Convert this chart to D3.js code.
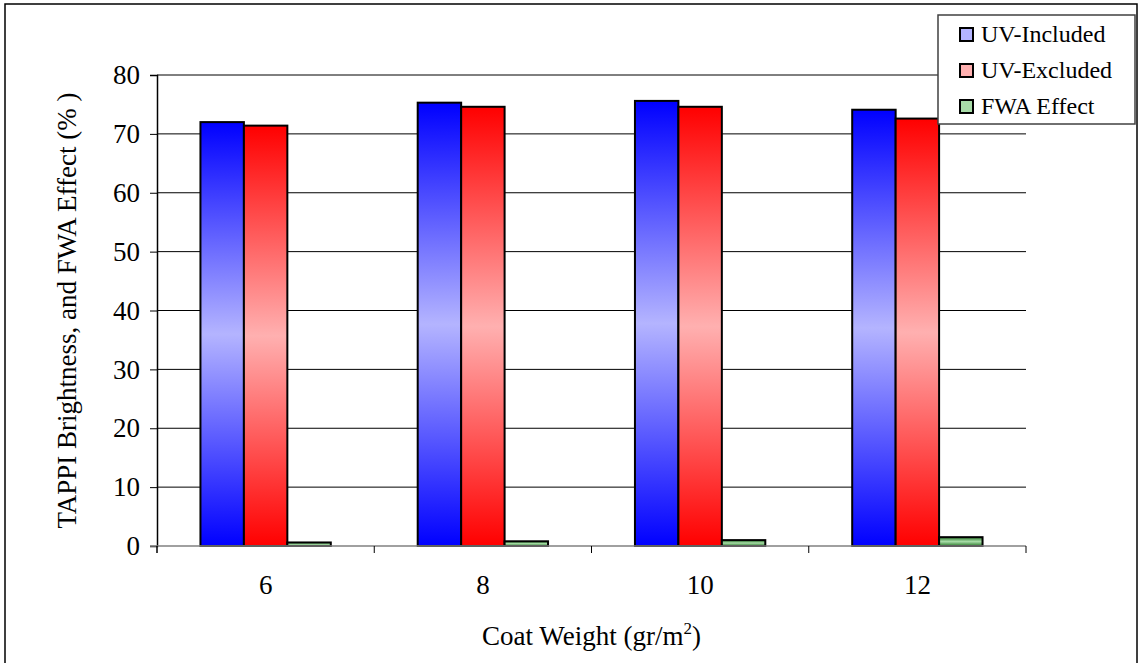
<!DOCTYPE html>
<html>
<head>
<meta charset="utf-8">
<script src="https://cdn.jsdelivr.net/npm/d3@7"></script>
<style>
  body { margin: 0; background: #fff; }
  svg text { font-family: "Liberation Serif", "Times New Roman", Times, serif !important; fill: #000; }
</style>
</head>
<body>
<svg id="chart" width="1142" height="663"></svg>
<script>
// data
var coatWeights = ["6", "8", "10", "12"];
var seriesNames = ["UV-Included", "UV-Excluded", "FWA Effect"];
var uvIncluded = [72.0, 75.3, 75.6, 74.1];
var uvExcluded = [71.4, 74.6, 74.6, 72.6];
var fwaEffect = [0.6, 0.8, 1.0, 1.5];
var yTicks = [0, 10, 20, 30, 40, 50, 60, 70, 80];

var colors = {
  "UV-Included": { dark: "#0000ff", light: "#b4b4ff" },
  "UV-Excluded": { dark: "#ff0000", light: "#ffb0b0" },
  "FWA Effect": { dark: "#2a7a2a", light: "#a8dca8" }
};

var values = [uvIncluded, uvExcluded, fwaEffect];
var rows = coatWeights.map(function (c, i) {
  return { cat: c, bars: seriesNames.map(function (s, j) { return { name: s, value: values[j][i] }; }) };
});

var svg = d3.select("#chart");
var margin = { left: 157, right: 1026, top: 75, bottom: 546 };

// outer frame
svg.append("rect")
  .attr("x", 5).attr("y", 4).attr("width", 1132).attr("height", 662)
  .attr("fill", "none").attr("stroke", "#000").attr("stroke-width", 1.5);

var defs = svg.append("defs");
seriesNames.forEach(function (s, i) {
  var g = defs.append("linearGradient")
    .attr("id", "grad" + i)
    .attr("x1", 0).attr("y1", 0).attr("x2", 0).attr("y2", 1);
  g.append("stop").attr("offset", "0%").attr("stop-color", colors[s].dark);
  g.append("stop").attr("offset", "50%").attr("stop-color", colors[s].light);
  g.append("stop").attr("offset", "100%").attr("stop-color", colors[s].dark);
});

var x0 = d3.scaleBand().domain(coatWeights).range([margin.left, margin.right]);
var x1 = d3.scaleBand().domain(seriesNames).range([0, x0.bandwidth()]).paddingOuter(1);
var y = d3.scaleLinear().domain([0, 80]).range([margin.bottom, margin.top]);

// gridlines
svg.append("g")
  .selectAll("line")
  .data(yTicks.filter(function (d) { return d > 0; }))
  .enter().append("line")
  .attr("x1", margin.left).attr("x2", margin.right)
  .attr("y1", function (d) { return y(d); }).attr("y2", function (d) { return y(d); })
  .attr("stroke", "#000").attr("stroke-width", 1);

// bars
var groups = svg.append("g").selectAll("g")
  .data(rows)
  .enter().append("g")
  .attr("transform", function (d) { return "translate(" + x0(d.cat) + ",0)"; });

groups.selectAll("rect")
  .data(function (d) { return d.bars; })
  .enter().append("rect")
  .attr("x", function (d) { return x1(d.name); })
  .attr("width", x1.bandwidth())
  .attr("y", function (d) { return y(d.value); })
  .attr("height", function (d) { return y(0) - y(d.value); })
  .attr("fill", function (d) { return "url(#grad" + seriesNames.indexOf(d.name) + ")"; })
  .attr("stroke", "#000").attr("stroke-width", 2);

// y axis
var yAxis = svg.append("g")
  .attr("transform", "translate(" + margin.left + ",0)")
  .call(d3.axisLeft(y).tickValues(yTicks).tickSize(7).tickPadding(10));
yAxis.attr("font-family", null);
yAxis.select(".domain").attr("stroke", "#000").attr("stroke-width", 1.5);
yAxis.selectAll(".tick line").attr("stroke", "#000");
yAxis.selectAll(".tick text").style("font-size", "27px").attr("fill", "#000");

// x axis
var xAxis = svg.append("g")
  .attr("transform", "translate(0," + margin.bottom + ")")
  .call(d3.axisBottom(x0).tickSize(0).tickPadding(29));
xAxis.attr("font-family", null);
xAxis.select(".domain").attr("stroke", "#808080").attr("stroke-width", 1.5)
  .attr("d", "M" + (margin.left - 7) + ",0H" + margin.right);
xAxis.selectAll(".tick text").style("font-size", "27px").attr("fill", "#000");
// category boundary ticks
xAxis.append("g").selectAll("line")
  .data(coatWeights)
  .enter().append("line")
  .attr("x1", function (d) { return x0(d) + x0.bandwidth(); })
  .attr("x2", function (d) { return x0(d) + x0.bandwidth(); })
  .attr("y1", 0).attr("y2", 7)
  .attr("stroke", "#000");
xAxis.append("line")
  .attr("x1", margin.left).attr("x2", margin.left).attr("y1", 0).attr("y2", 7)
  .attr("stroke", "#000").attr("stroke-width", 1.5);

// axis titles
var xTitle = svg.append("text")
  .attr("x", (margin.left + margin.right) / 2).attr("y", 645)
  .attr("text-anchor", "middle").style("font-size", "27px")
  .text("Coat Weight (gr/m");
xTitle.append("tspan").attr("dy", -11).style("font-size", "17px").text("2");
xTitle.append("tspan").attr("dy", 11).text(")");

svg.append("text")
  .attr("transform", "translate(76," + (margin.top + margin.bottom) / 2 + ") rotate(-90)")
  .attr("text-anchor", "middle").style("font-size", "27px")
  .text("TAPPI Brightness, and FWA Effect (% )");

// legend
var legend = svg.append("g").attr("transform", "translate(938,15)");
legend.append("rect")
  .attr("width", 197).attr("height", 109)
  .attr("fill", "#fff").attr("stroke", "#404040").attr("stroke-width", 1.5);

var items = legend.selectAll(".legendItem")
  .data(seriesNames)
  .enter().append("g")
  .attr("class", "legendItem")
  .attr("transform", function (d, i) { return "translate(0," + (i * 36) + ")"; });

items.append("rect")
  .attr("x", 22).attr("y", 13).attr("width", 13).attr("height", 13)
  .attr("fill", function (d) { return colors[d].light; })
  .attr("stroke", "#000").attr("stroke-width", 2);

items.append("text")
  .attr("x", 43).attr("y", 27)
  .style("font-size", "24px")
  .text(function (d) { return d; });
</script>
</body>
</html>
